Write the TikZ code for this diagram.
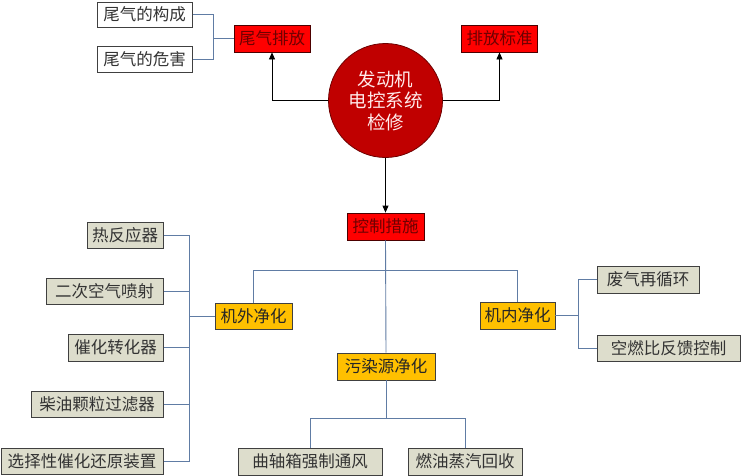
\documentclass[tikz,border=0pt]{standalone}
\usepackage{fontspec}
\setmainfont{Noto Sans CJK SC}
\usetikzlibrary{arrows.meta}
\definecolor{conncol}{RGB}{96,124,164}
\definecolor{boxfill}{RGB}{221,221,204}
\definecolor{boxline}{RGB}{64,64,64}
\definecolor{redfill}{RGB}{255,0,0}
\definecolor{redtext}{RGB}{110,0,0}
\definecolor{circfill}{RGB}{192,0,0}
\definecolor{circline}{RGB}{110,0,0}
\definecolor{yelfill}{RGB}{255,192,0}
\tikzset{
  x=1pt,y=-1pt,
  basebox/.style={rectangle,inner sep=0pt,minimum height=26pt,font=\fontsize{16.5}{19}\selectfont},
  gbox/.style={basebox,fill=boxfill,draw=boxline,line width=1pt,text=black!80},
  wbox/.style={basebox,fill=white,draw=boxline,line width=1pt,text=black!80},
  rbox/.style={basebox,fill=redfill,draw=black!70!red,line width=0.8pt,text=redtext},
  ybox/.style={basebox,fill=yelfill,draw=black!75,line width=0.8pt,text=black!85},
  conn/.style={draw=conncol,line width=0.9pt},
  arr/.style={draw=black,line width=0.8pt,-{Triangle[length=7pt,width=6pt]}}
}
\begin{document}
\begin{tikzpicture}
\useasboundingbox[fill=white] (0,0) rectangle (741,475);
% central circle
\node[circle,fill=circfill,draw=circline,line width=0.8pt,minimum size=114pt,inner sep=0pt,
  text=white!92!red,align=center,font=\fontsize{18.5}{21.5}\selectfont] (c) at (385.5,100.5)
  {发动机\\电控系统\\检修};
% top
\node[wbox,minimum width=95pt,minimum height=25pt] (b1) at (144.5,14.5) {尾气的构成};
\node[wbox,minimum width=95pt] (b2) at (144.5,59) {尾气的危害};
\node[rbox,minimum width=76pt,minimum height=27pt] (wq) at (272,38.5) {尾气排放};
\node[rbox,minimum width=76pt,minimum height=27pt] (pf) at (499.5,38.5) {排放标准};
\node[rbox,minimum width=77pt,minimum height=27pt] (kz) at (385.5,226.5) {控制措施};
% middle
\node[ybox,minimum width=77pt] (jw) at (253.5,316) {机外净化};
\node[ybox,minimum width=75pt,minimum height=27pt] (jn) at (517.5,315.5) {机内净化};
\node[ybox,minimum width=98pt,minimum height=27pt] (wr) at (386,366.5) {污染源净化};
% left list
\node[gbox,minimum width=76pt] (l1) at (125,235) {热反应器};
\node[gbox,minimum width=117pt] (l2) at (104.5,291) {二次空气喷射};
\node[gbox,minimum width=95pt,minimum height=27pt] (l3) at (115.5,347.5) {催化转化器};
\node[gbox,minimum width=132pt] (l4) at (97,404) {柴油颗粒过滤器};
\node[gbox,minimum width=162pt] (l5) at (82,461) {选择性催化还原装置};
% right list
\node[gbox,minimum width=102pt,minimum height=27pt] (r1) at (648,279.5) {废气再循环};
\node[gbox,minimum width=143pt] (r2) at (668.5,348) {空燃比反馈控制};
% bottom list
\node[gbox,minimum width=144pt,minimum height=27pt] (d1) at (310,461.5) {曲轴箱强制通风};
\node[gbox,minimum width=114pt,minimum height=27pt] (d2) at (465,461.5) {燃油蒸汽回收};
% junction coordinates
\coordinate (tb) at (213,38.5);
\coordinate (h) at (385.5,270);
\coordinate (lb) at (189,316);
\coordinate (rb) at (578,315.5);
\coordinate (bb) at (386,418);
% top connectors
\draw[conn] (b1.east) -| (tb);
\draw[conn] (b2.east) -| (tb);
\draw[conn] (tb) -- (wq.west);
\draw[arr] (c.west) -| (wq.south);
\draw[arr] (c.east) -| (pf.south);
\draw[arr] (c.south) -- (kz.north);
% middle connectors
\draw[conn] (kz.south) -- (wr.north);
\draw[conn] (jw.north) |- (h);
\draw[conn] (jn.north) |- (h);
% left
\draw[conn] (jw.west) -- (lb);
\foreach \n in {l1,l2,l3,l4,l5} \draw[conn] (\n.east) -| (lb);
% right
\draw[conn] (jn.east) -- (rb);
\foreach \n in {r1,r2} \draw[conn] (\n.west) -| (rb);
% bottom
\draw[conn] (wr.south) -- (bb);
\draw[conn] (d1.north) |- (bb);
\draw[conn] (d2.north) |- (bb);
\end{tikzpicture}
\end{document}
